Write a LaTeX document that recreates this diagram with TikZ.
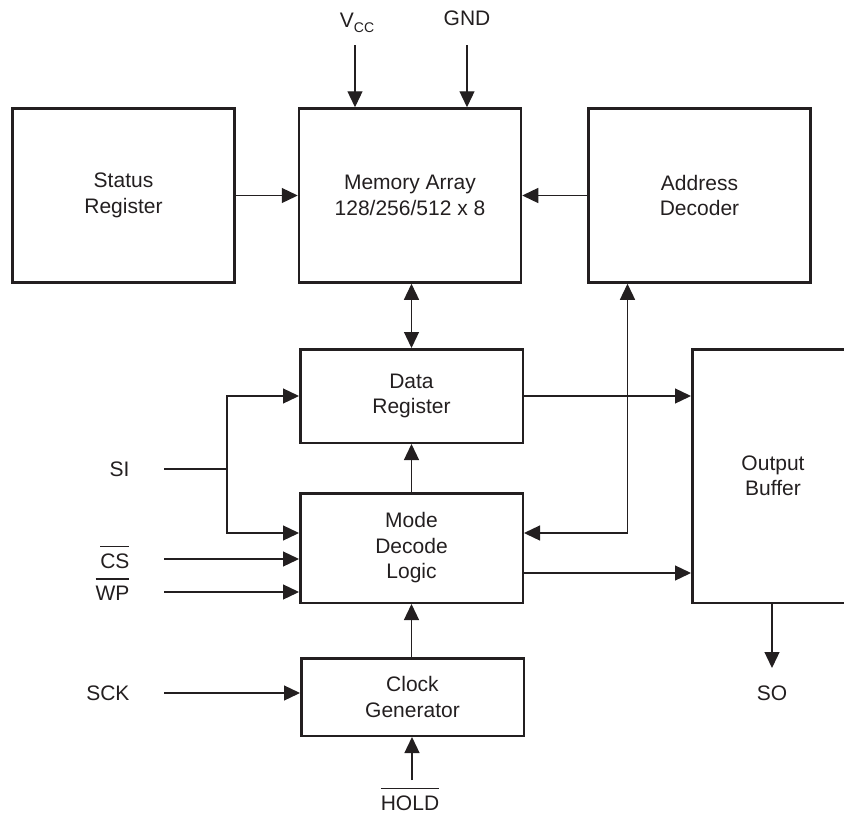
\documentclass[tikz,border=0pt]{standalone}
\usepackage{fontspec}
\setmainfont{Liberation Sans}
\usetikzlibrary{arrows.meta}
\definecolor{ink}{HTML}{231F20}
\newcommand{\lowact}[1]{\leavevmode\vbox{\hrule height 1.4pt\kern 6pt\hbox{#1}}}

\begin{document}
\begin{tikzpicture}[
x=1pt,y=-1pt,
every node/.style={font=\fontsize{21}{25.5}\selectfont,text=ink},
block/.style={
  draw=ink,
  line width=2.5pt,
  align=center,
  inner sep=0pt
  },
sig/.style={draw=ink,line width=1.3pt,-{Triangle[length=16pt,width=15pt]}},
bus/.style={sig,{Triangle[length=16pt,width=15pt]}-{Triangle[length=16pt,width=15pt]}},
wire/.style={draw=ink,line width=1.3pt}
]
\useasboundingbox (0,0) rectangle (844,817);
% blocks
\node[block,minimum width=222pt,minimum height=174pt] (status) at (123.5,195.5) {Status\\Register};
\node[block,minimum width=222pt,minimum height=174pt] (memory) at (410,195.5) {Memory Array\\128/256/512 x 8};
\node[block,minimum width=222pt,minimum height=174pt] (address) at (699.5,195.5) {Address\\Decoder};
\node[block,minimum width=222.5pt,minimum height=93.5pt] (data) at (411.5,396) {Data\\Register};
\node[block,minimum width=222.5pt,minimum height=109.5pt] (mode) at (411.5,548) {Mode\\Decode\\Logic};
\node[block,minimum width=222.5pt,minimum height=77.5pt] (clock) at (412.5,697) {Clock\\Generator};
\node[block,minimum width=161.5pt,minimum height=253.5pt] (output) at (773,476) {Output\\Buffer};
% pins
\node[anchor=base] (vcc) at (357,27.5) {V\raisebox{-4.5pt}{\fontsize{14}{14}\selectfont CC}};
\node[anchor=base] (gnd) at (467,25.5) {GND};
\node[anchor=base east] (si) at (133,476.5) {SI};
\node[anchor=base east] (cs) at (133,568) {\lowact{CS}};
\node[anchor=base east] (wp) at (133,600) {\lowact{WP}};
\node[anchor=base east] (sck) at (133,700.5) {SCK};
\node[anchor=base] (hold) at (410,810) {\lowact{HOLD}};
\node[anchor=base] (so) at (772,700.5) {SO};
\coordinate (vccin) at (355,45);
\coordinate (gndin) at (467,45);
\coordinate (siin) at (164,469);
\coordinate (sibr) at (227,469);
\coordinate (csin) at (164,559);
\coordinate (wpin) at (164,592);
\coordinate (sckin) at (164,693);
\coordinate (holdin) at (412,780);
\coordinate (soout) at (772,668);
\coordinate (adbus) at (627.5,533);
% connectors
\draw[sig] (vccin) -- (vccin |- memory.north);
\draw[sig] (gndin) -- (gndin |- memory.north);
\draw[sig] (status.east) -- (memory.west);
\draw[sig] (address.west) -- (memory.east);
\draw[bus] (data.north |- memory.south) -- (data.north);
\draw[sig] (mode.north) -- (data.south);
\draw[sig] (mode.south |- clock.north) -- (mode.south);
\draw[sig] (holdin) -- (holdin |- clock.south);
\draw[sig] (sckin) -- (sckin -| clock.west);
\draw[wire] (siin) -- (sibr);
\draw[sig] (sibr) |- (data.west);
\draw[sig] (sibr) |- (mode.west |- adbus);
\draw[sig] (csin) -- (csin -| mode.west);
\draw[sig] (wpin) -- (wpin -| mode.west);
\draw[bus] (mode.east |- adbus) -- (adbus) -- (adbus |- address.south);
\draw[sig] (data.east) -- (data.east -| output.west);
\draw[sig] ([yshift=-25pt]mode.east) -- ([yshift=-25pt]mode.east -| output.west);
\draw[sig] (soout |- output.south) -- (soout);
\end{tikzpicture}
\end{document}
